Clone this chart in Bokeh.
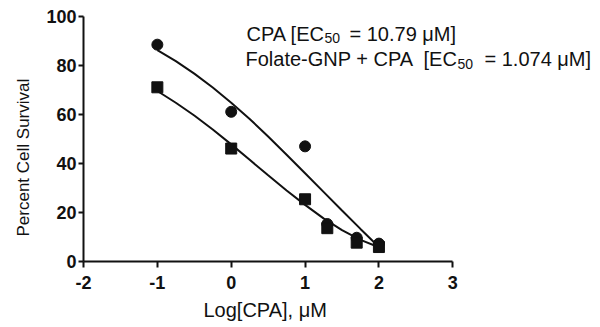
from bokeh.plotting import figure
from bokeh.models import FixedTicker, Label, Range1d, Title
from bokeh.embed import file_html
from bokeh.resources import INLINE

# Data
log_conc = [-1, 0, 1, 1.301, 1.699, 2]
cpa_survival = [88.5, 61.1, 47.0, 15.3, 9.7, 7.3]
gnp_cpa_survival = [71.1, 46.1, 25.4, 13.6, 7.7, 5.9]

# Fitted curves
curve_x = [-1, -0.75, -0.5, -0.25, 0, 0.25, 0.5, 0.75, 1, 1.25, 1.5, 1.75, 2]
cpa_fit = [86.3, 81.8, 76.7, 71.0, 64.8, 58.2, 51.0, 43.6, 36.0, 28.4, 20.8, 13.3, 5.9]
gnp_cpa_fit = [69.6, 64.8, 59.6, 53.9, 47.8, 41.5, 35.2, 29.0, 23.1, 17.6, 12.8, 8.8, 5.8]

x_ticks = [-2, -1, 0, 1, 2, 3]
y_ticks = [0, 20, 40, 60, 80, 100]

FONT = "Liberation Sans"
INK = "#111111"

W, H = 600, 327
LEFT, TOP, FRAME_H = 83, 16, 245
X0, X1, Y0, Y1 = -2, 5, 0, 100

p = figure(width=W, height=H, output_backend="svg", toolbar_location=None,
           x_range=Range1d(X0, X1), y_range=Range1d(Y0, Y1),
           min_border_left=LEFT, min_border_right=0, min_border_top=TOP,
           min_border_bottom=H - TOP - FRAME_H)
p.outline_line_color = None
p.xgrid.visible = False
p.ygrid.visible = False
p.background_fill_color = "white"
p.border_fill_color = "white"

for ax in (p.xaxis[0], p.yaxis[0]):
    ax.axis_line_width = 2
    ax.axis_line_color = INK
    ax.major_tick_line_width = 2
    ax.major_tick_line_color = INK
    ax.major_tick_in = 0
    ax.minor_tick_line_color = None
    ax.major_label_text_font = FONT
    ax.major_label_text_font_size = "18px"
    ax.major_label_text_font_style = "bold"
    ax.major_label_text_color = INK

p.xaxis.bounds = (x_ticks[0], x_ticks[-1])
p.xaxis.ticker = FixedTicker(ticks=x_ticks)
p.yaxis.ticker = FixedTicker(ticks=y_ticks)
p.xaxis.major_label_overrides = {t: str(t) for t in x_ticks}
p.xaxis.major_tick_out = 6
p.yaxis.major_tick_out = 5
p.xaxis.major_label_standoff = 8
p.yaxis.major_label_standoff = 2

# Axis titles as side titles, so they can be placed like the reference
x_title = Title(text="Log[CPA], \u03bcM", align="left", offset=120,
                text_font=FONT, text_font_size="20px", text_font_style="normal",
                text_color=INK, standoff=10)
p.add_layout(x_title, "below")
y_title = Title(text="Percent Cell Survival", align="left", offset=25,
                text_font=FONT, text_font_size="17px", text_font_style="normal",
                text_color=INK, standoff=22)
p.add_layout(y_title, "left")

p.line(curve_x, cpa_fit, line_color=INK, line_width=2)
p.line(curve_x, gnp_cpa_fit, line_color=INK, line_width=2)
p.scatter(log_conc, cpa_survival, marker="circle", size=11, fill_color=INK, line_color=INK)
p.scatter(log_conc, gnp_cpa_survival, marker="square", size=11, fill_color=INK, line_color=INK)

frame_w = W - LEFT
def px_to_x(px):
    return X0 + (px - LEFT) * (X1 - X0) / frame_w

def py_to_y(py):
    return Y1 - (py - TOP) * (Y1 - Y0) / FRAME_H

legend_pieces = [
    ("CPA [EC", 246, 33.5, "20px"),
    ("50", 324, 37.5, "14px"),
    ("= 10.79  \u03bcM]", 349, 33.5, "20px"),
    ("Folate-GNP + CPA", 245, 58.5, "20px"),
    ("[EC", 423, 58.5, "20px"),
    ("50", 457, 63.5, "14px"),
    ("= 1.074  \u03bcM]", 484, 58.5, "20px"),
]
for txt, px, py, fs in legend_pieces:
    p.add_layout(Label(x=px_to_x(px), y=py_to_y(py), text=txt, text_font=FONT,
                       text_font_size=fs, text_color=INK, text_baseline="alphabetic",
                       text_align="left"))

open("out.html", "w").write(file_html(p, INLINE))
